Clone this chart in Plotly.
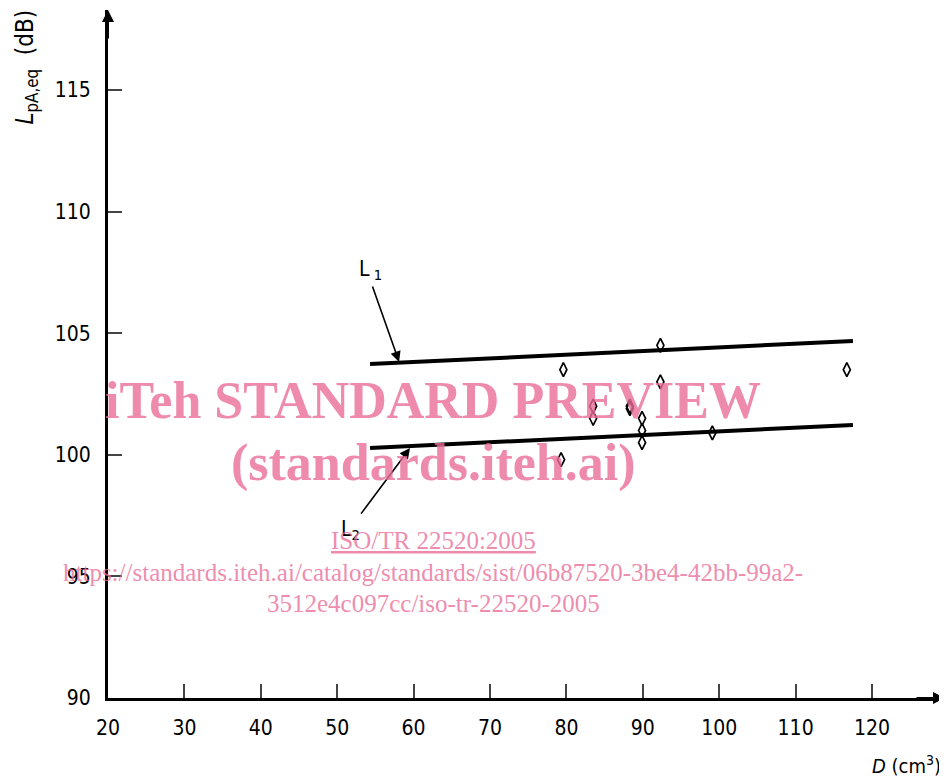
import plotly.graph_objects as go

# ---- data ----
d_values = [79.6, 83.5, 83.5, 88.3, 88.3, 89.9, 89.9, 89.9, 92.3, 92.3, 99.1, 116.7, 79.3]
lpa_values = [103.5, 102.0, 101.5, 102.0, 101.9, 101.5, 101.0, 100.5, 104.5, 103.0, 100.9, 103.5, 99.8]

l1_x = [54.3, 117.5]
l1_y = [103.73, 104.68]
l2_x = [54.3, 117.5]
l2_y = [100.28, 101.23]

x_ticks = [20, 30, 40, 50, 60, 70, 80, 90, 100, 110, 120]
y_ticks = [90, 95, 100, 105, 110, 115]

FONT = "DejaVu Sans Condensed, Liberation Sans Narrow, DejaVu Sans, sans-serif"
PINK = "rgba(234,110,152,0.8)"

fig = go.Figure()
fig.add_trace(go.Scatter(x=l1_x, y=l1_y, mode="lines", line=dict(color="black", width=4), showlegend=False))
fig.add_trace(go.Scatter(x=l2_x, y=l2_y, mode="lines", line=dict(color="black", width=4), showlegend=False))
fig.add_trace(go.Scatter(x=d_values, y=lpa_values, mode="markers",
                         marker=dict(symbol="diamond-tall-open", size=10, color="black",
                                     line=dict(width=1.7, color="black")),
                         showlegend=False))

x_range = [20, 129.55]
y_range = [90, 118.29]

# page body has an 8px margin: figure placed at (8, 8)
fig.update_layout(
    width=939, height=770,
    margin=dict(l=100, r=2, t=2, b=80),
    paper_bgcolor="white", plot_bgcolor="white",
    font=dict(family=FONT, size=21, color="black"),
    xaxis=dict(range=x_range, tickvals=x_ticks, ticks="inside", ticklen=14, tickwidth=1.5,
               showgrid=False, zeroline=False, showline=True, linewidth=3, linecolor="black",
               ticklabelstandoff=9, tickfont=dict(family=FONT, size=21)),
    yaxis=dict(range=y_range, tickvals=y_ticks, ticks="inside", ticklen=14, tickwidth=1.5,
               showgrid=False, zeroline=False, showline=True, linewidth=3, linecolor="black",
               ticklabelstandoff=10, tickfont=dict(family=FONT, size=21)),
)

# axis arrows
fig.add_annotation(x=1.0, y=0, xref="paper", yref="paper", ax=-30, ay=0,
                   text="", showarrow=True, arrowhead=2, arrowsize=1.2, arrowwidth=2, arrowcolor="black")
fig.add_annotation(x=0, y=1.0, xref="paper", yref="paper", ax=0, ay=30,
                   text="", showarrow=True, arrowhead=2, arrowsize=1.2, arrowwidth=2, arrowcolor="black")

# axis titles
fig.add_annotation(xref="paper", yref="paper", x=(26 - 108) / 837, y=(698 - 8) / 688,
                   xanchor="center", yanchor="top", textangle=-90, showarrow=False,
                   text="<i>L</i><sub>pA,eq</sub>  (dB)", font=dict(family=FONT, size=24))
fig.add_annotation(xref="paper", yref="paper", x=(943 - 108) / 837, y=(698 - 765) / 688,
                   xanchor="right", yanchor="middle",
                   showarrow=False, text="<i>D</i> (cm<sup>3</sup>)", font=dict(family=FONT, size=20))

# L1 / L2 labels with arrows
fig.add_annotation(x=58.1, y=103.82, ax=54.55, ay=106.98, axref="x", ayref="y",
                   text="", showarrow=True, arrowhead=2, arrowsize=1.3, arrowwidth=1.6, arrowcolor="black")
fig.add_annotation(x=54.4, y=107.6, text="L<sub> 1</sub>", showarrow=False, font=dict(family=FONT, size=21))
fig.add_annotation(x=59.53, y=100.28, ax=52.98, ay=97.52, axref="x", ayref="y",
                   text="", showarrow=True, arrowhead=2, arrowsize=1.3, arrowwidth=1.6, arrowcolor="black")
fig.add_annotation(x=51.8, y=96.9, text="L<sub>2</sub>", showarrow=False, font=dict(family=FONT, size=21))

# watermark
WM = "Liberation Serif, Times New Roman, serif"
cx = (433 - 108) / 837
fig.add_annotation(xref="paper", yref="paper", x=cx, y=(698 - 400) / 688,
                   text="<b>iTeh STANDARD PREVIEW</b>", showarrow=False,
                   font=dict(family=WM, size=52, color=PINK))
fig.add_annotation(xref="paper", yref="paper", x=cx, y=(698 - 463) / 688,
                   text="<b>(standards.iteh.ai)</b>", showarrow=False,
                   font=dict(family=WM, size=52, color=PINK))
fig.add_annotation(xref="paper", yref="paper", x=cx, y=(698 - 556) / 688,
                   text="<u>ISO/TR 22520:2005</u>", showarrow=False,
                   font=dict(family=WM, size=25, color=PINK))
fig.add_annotation(xref="paper", yref="paper", x=cx, y=(698 - 588) / 688,
                   text="https://standards.iteh.ai/catalog/standards/sist/06b87520-3be4-42bb-99a2-", showarrow=False,
                   font=dict(family=WM, size=25, color=PINK))
fig.add_annotation(xref="paper", yref="paper", x=cx, y=(698 - 619) / 688,
                   text="3512e4c097cc/iso-tr-22520-2005", showarrow=False,
                   font=dict(family=WM, size=25, color=PINK))

fig.write_html("out.html")
